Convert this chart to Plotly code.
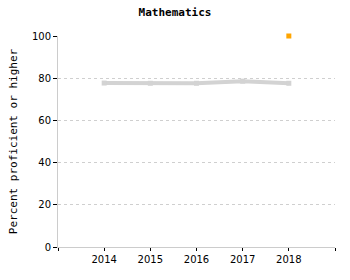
import plotly.graph_objects as go

years = [2014, 2015, 2016, 2017, 2018]
state_vals = [77.7, 77.6, 77.6, 78.6, 77.6]
school_years = [2018]
school_vals = [100]
tick_vals = [2013, 2014, 2015, 2016, 2017, 2018, 2019]
tick_text = ["", "2014", "2015", "2016", "2017", "2018", ""]

fig = go.Figure()
fig.add_trace(go.Scatter(x=years, y=state_vals, mode="lines+markers",
                         line=dict(color="#d3d3d3", width=4),
                         marker=dict(color="#d3d3d3", size=5, symbol="square"),
                         showlegend=False, cliponaxis=False))
fig.add_trace(go.Scatter(x=school_years, y=school_vals, mode="markers",
                         marker=dict(color="#ffa500", size=5, symbol="square"),
                         showlegend=False, cliponaxis=False))

fig.update_layout(
    width=350, height=280,
    margin=dict(l=58, r=15, t=36, b=33),
    paper_bgcolor="white", plot_bgcolor="white",
    title=dict(text="<b>Mathematics</b>", x=0.5, xanchor="center", y=0.955, yanchor="middle",
               font=dict(family="DejaVu Sans Mono", size=11, color="black")),
    font=dict(family="DejaVu Sans", size=10, color="black"),
    xaxis=dict(range=[2013, 2019], tickvals=tick_vals, ticktext=tick_text,
               showgrid=False, zeroline=False, showline=True, linecolor="#cccccc", linewidth=1,
               ticks="outside", ticklen=3, tickcolor="black", tickwidth=1,
               tickfont=dict(family="DejaVu Sans", size=10)),
    yaxis=dict(range=[0, 100], tickvals=[0, 20, 40, 60, 80, 100],
               showgrid=True, gridcolor="#cfcfcf", griddash="dot", gridwidth=1,
               zeroline=False, showline=True, linecolor="#cccccc", linewidth=1,
               ticks="outside", ticklen=4, tickcolor="black", tickwidth=1,
               tickfont=dict(family="DejaVu Sans", size=10),
               title=dict(text="Percent proficient or higher", standoff=12,
                          font=dict(family="DejaVu Sans Mono", size=11))),
)
fig.write_html("out.html")
